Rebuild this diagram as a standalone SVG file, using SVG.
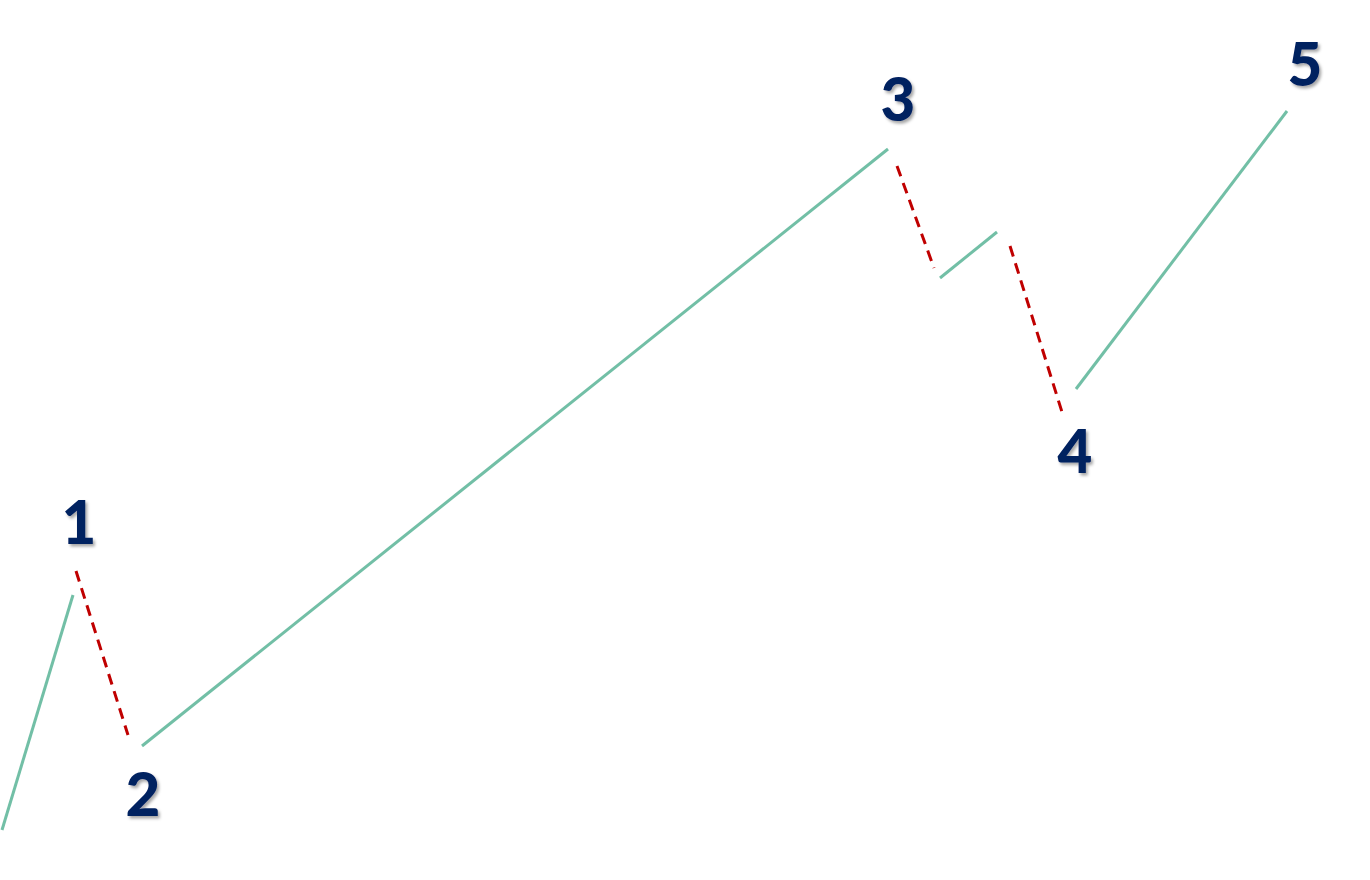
<svg xmlns="http://www.w3.org/2000/svg" width="1370" height="880" viewBox="0 0 1370 880">
<defs>
<filter id="sh" x="-20%" y="-20%" width="150%" height="150%">
<feDropShadow dx="2" dy="2.5" stdDeviation="1.5" flood-color="#000" flood-opacity="0.35"/>
</filter>
<style>
.lbl{font-family:Lato,"Open Sans","Liberation Sans",sans-serif;font-weight:900;font-size:60px;fill:#002060;text-anchor:middle;filter:url(#sh)}
.up{stroke:#72bfa6;stroke-width:3;fill:none}
.dn{stroke:#c00000;stroke-width:3;fill:none;stroke-dasharray:11 7}
</style>
</defs>
<rect width="1370" height="880" fill="#fff"/>
<g id="connectors">
<line class="up" x1="2" y1="830" x2="73" y2="595"/>
<line class="dn" x1="76" y1="571" x2="128" y2="735"/>
<line class="up" x1="142" y1="746" x2="888" y2="149"/>
<line class="dn" x1="897" y1="166" x2="934" y2="268"/>
<line class="up" x1="940" y1="278" x2="997" y2="232"/>
<line class="dn" x1="1010" y1="246" x2="1062" y2="412"/>
<line class="up" x1="1076" y1="389" x2="1287" y2="111"/>
</g>
<g id="n1"><text class="lbl" x="79" y="544">1</text></g>
<g id="n2"><text class="lbl" x="143" y="816">2</text></g>
<g id="n3"><text class="lbl" x="898" y="121">3</text></g>
<g id="n4"><text class="lbl" x="1075" y="473">4</text></g>
<g id="n5"><text class="lbl" x="1305" y="86">5</text></g>
</svg>
